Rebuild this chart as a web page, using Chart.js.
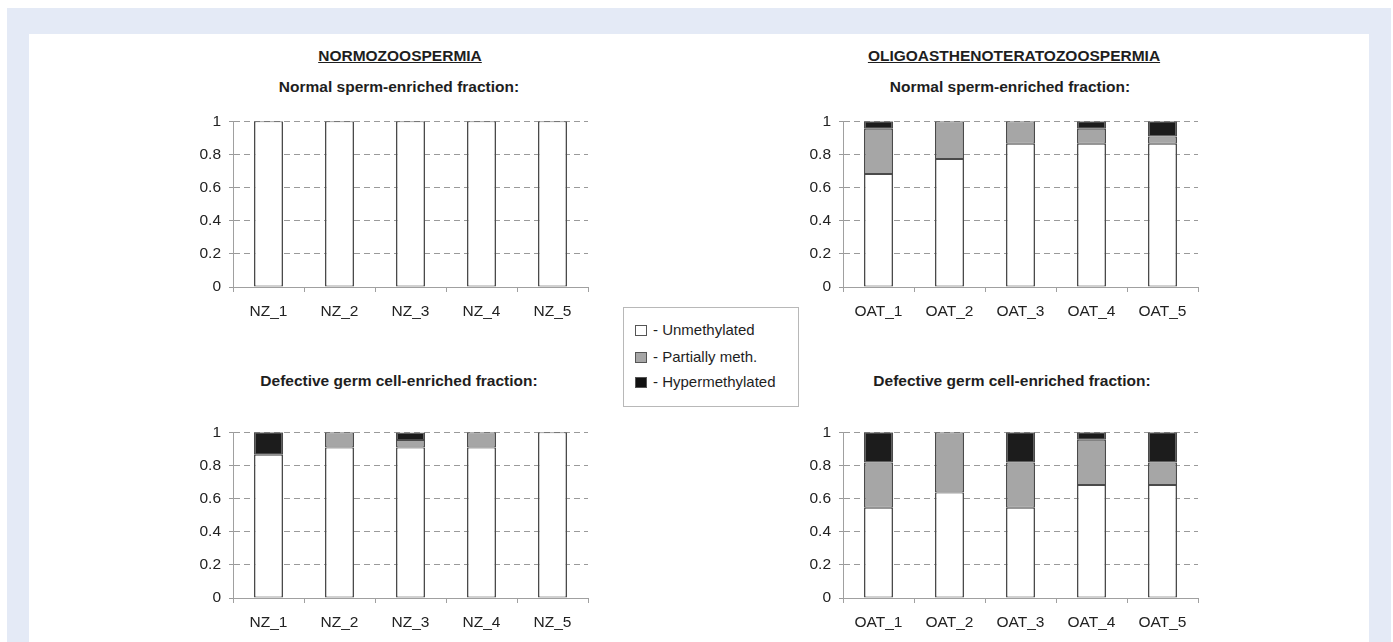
<!DOCTYPE html>
<html>
<head>
<meta charset="utf-8">
<script src="https://cdn.jsdelivr.net/npm/chart.js@4/dist/chart.umd.min.js"></script>
<style>
  html, body { margin: 0; padding: 0; background: #fff; }
  body { width: 1393px; height: 642px; position: relative; overflow: hidden; font-family: "Liberation Sans", Arial, sans-serif; color: #1e1e1e; }
  #outer { position: absolute; left: 7px; top: 8px; width: 1384px; height: 634px; background: #e4eaf6; }
  #panel { position: absolute; left: 29px; top: 34px; width: 1340px; height: 608px; background: #fff; }
  .t { position: absolute; transform: translate(-50%, -50%); white-space: nowrap; font-weight: bold; font-size: 15.5px; }
  .u { text-decoration: underline; }
  canvas { position: absolute; }
  #legend { position: absolute; left: 623px; top: 307px; width: 174px; height: 98px; border: 1px solid #b8b8b8; background: #fff; font-size: 15px; }
  .li { position: absolute; left: 11px; height: 18px; line-height: 18px; white-space: nowrap; }
  .sw { display: inline-block; box-sizing: border-box; width: 12px; height: 11px; border: 1px solid #555; vertical-align: -1px; margin-right: 6px; }
</style>
</head>
<body>
<div id="outer"></div>
<div id="panel"></div>

<div class="t u" style="left:400px; top:56px;">NORMOZOOSPERMIA</div>
<div class="t u" style="left:1014px; top:56px;">OLIGOASTHENOTERATOZOOSPERMIA</div>
<div class="t" style="left:399px; top:87px;">Normal sperm-enriched fraction:</div>
<div class="t" style="left:1010px; top:87px;">Normal sperm-enriched fraction:</div>
<div class="t" style="left:399px; top:381px;">Defective germ cell-enriched fraction:</div>
<div class="t" style="left:1012px; top:381px;">Defective germ cell-enriched fraction:</div>

<canvas id="c1" width="420" height="225" style="left:173px; top:104px;"></canvas>
<canvas id="c2" width="420" height="225" style="left:783px; top:104px;"></canvas>
<canvas id="c3" width="420" height="225" style="left:173px; top:415px;"></canvas>
<canvas id="c4" width="420" height="225" style="left:783px; top:415px;"></canvas>

<div id="legend">
  <div class="li" style="top:13px;"><span class="sw" style="background:#fff;"></span>- Unmethylated</div>
  <div class="li" style="top:40px;"><span class="sw" style="background:#a6a6a6;"></span>- Partially meth.</div>
  <div class="li" style="top:65px;"><span class="sw" style="background:#111;"></span>- Hypermethylated</div>
</div>

<script>
// Categorias
const nzLabels = ["NZ_1", "NZ_2", "NZ_3", "NZ_4", "NZ_5"];
const oatLabels = ["OAT_1", "OAT_2", "OAT_3", "OAT_4", "OAT_5"];
const seriesNames = ["Unmethylated", "Partially meth.", "Hypermethylated"];

// Normozoospermia - fraccion normal
const nzNormUnmeth = [1, 1, 1, 1, 1];
const nzNormPartial = [0, 0, 0, 0, 0];
const nzNormHyper = [0, 0, 0, 0, 0];

// Oligoasthenoteratozoospermia - fraccion normal
const oatNormUnmeth = [0.682, 0.773, 0.864, 0.864, 0.864];
const oatNormPartial = [0.273, 0.227, 0.136, 0.091, 0.045];
const oatNormHyper = [0.045, 0, 0, 0.045, 0.091];

// Normozoospermia - fraccion defectuosa
const nzDefUnmeth = [0.864, 0.909, 0.909, 0.909, 1];
const nzDefPartial = [0, 0.091, 0.045, 0.091, 0];
const nzDefHyper = [0.136, 0, 0.045, 0, 0];

// Oligoasthenoteratozoospermia - fraccion defectuosa
const oatDefUnmeth = [0.545, 0.636, 0.545, 0.682, 0.682];
const oatDefPartial = [0.273, 0.364, 0.273, 0.273, 0.136];
const oatDefHyper = [0.182, 0, 0.182, 0.045, 0.182];

const colores = ["#ffffff", "#a6a6a6", "#1c1c1c"];
const fuente = { family: "Liberation Sans", size: 15.5 };

function grafico(id, labels, unmeth, partial, hyper) {
    const ctx = document.getElementById(id).getContext('2d');
    return new Chart(ctx, {
        type: 'bar',
        data: {
            labels: labels,
            datasets: [unmeth, partial, hyper].map((d, i) => ({
                label: seriesNames[i],
                // los ceros no se dibujan
                data: d.map(v => v || null),
                backgroundColor: colores[i],
                borderColor: '#4a4a4a',
                borderWidth: { top: 1, bottom: 1, left: 1.6, right: 1.6 },
                borderSkipped: false,
                categoryPercentage: 1,
                barPercentage: 0.41
            }))
        },
        options: {
            responsive: false,
            animation: false,
            layout: { padding: { top: 10, right: 5, left: 0, bottom: 0 } },
            plugins: { legend: { display: false }, tooltip: { enabled: false } },
            scales: {
                x: {
                    stacked: true,
                    grid: { drawOnChartArea: false, drawTicks: true, tickLength: 5, color: '#a0a0a0' },
                    border: { color: '#a0a0a0', width: 1 },
                    ticks: { color: '#222', font: fuente, padding: 10 },
                    afterFit: s => { s.height = 42; }
                },
                y: {
                    stacked: true,
                    min: 0, max: 1,
                    grid: { color: '#9a9a9a', tickLength: 4 },
                    border: { color: '#a0a0a0', width: 1, dash: [6, 4] },
                    ticks: {
                        stepSize: 0.2, color: '#222', font: fuente, padding: 8,
                        callback: v => String(+v.toFixed(1))
                    },
                    afterFit: s => { s.width = 60; }
                }
            }
        }
    });
}

grafico('c1', nzLabels, nzNormUnmeth, nzNormPartial, nzNormHyper);
grafico('c2', oatLabels, oatNormUnmeth, oatNormPartial, oatNormHyper);
grafico('c3', nzLabels, nzDefUnmeth, nzDefPartial, nzDefHyper);
grafico('c4', oatLabels, oatDefUnmeth, oatDefPartial, oatDefHyper);
</script>
</body>
</html>
